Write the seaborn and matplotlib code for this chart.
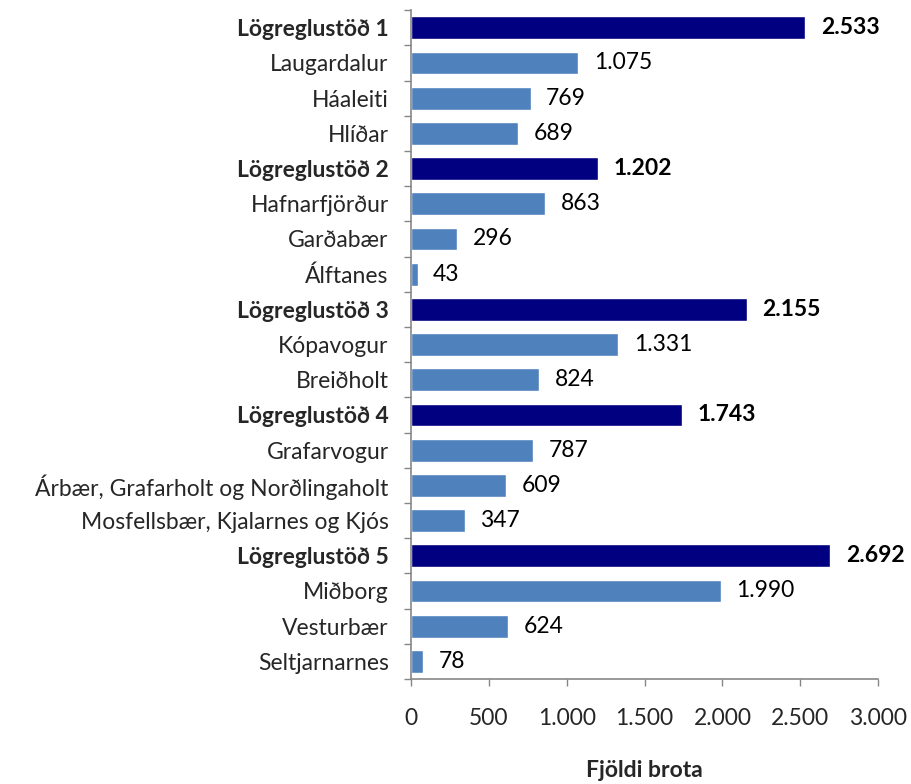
import pandas as pd
import matplotlib.pyplot as plt
import seaborn as sns

# Fjöldi brota eftir lögreglustöð og hverfi
categories = [
    "Lögreglustöð 1", "Laugardalur", "Háaleiti", "Hlíðar",
    "Lögreglustöð 2", "Hafnarfjörður", "Garðabær", "Álftanes",
    "Lögreglustöð 3", "Kópavogur", "Breiðholt",
    "Lögreglustöð 4", "Grafarvogur", "Árbær, Grafarholt og Norðlingaholt",
    "Mosfellsbær, Kjalarnes og Kjós",
    "Lögreglustöð 5", "Miðborg", "Vesturbær", "Seltjarnarnes",
]
values = [2533, 1075, 769, 689, 1202, 863, 296, 43, 2155, 1331, 824,
          1743, 787, 609, 347, 2692, 1990, 624, 78]
x_ticks = [0, 500, 1000, 1500, 2000, 2500, 3000]

STATION_COLOR = "#000080"
AREA_COLOR = "#4F81BD"
AXIS_COLOR = "#878787"
FS = 16.5

sns.set_theme(style="white")
plt.rcParams["font.family"] = ["Lato", "DejaVu Sans"]


def fmt(v):
    return f"{v:,}".replace(",", ".")


df = pd.DataFrame({"area": categories, "count": values})
df["station"] = df["area"].str.startswith("Lögreglustöð")

fig = plt.figure(figsize=(9.11, 7.84), dpi=100)
ax = fig.add_axes([0.451, 0.134, 0.513, 0.853])

palette = [STATION_COLOR if s else AREA_COLOR for s in df["station"]]
sns.barplot(data=df, y="area", x="count", hue="area", palette=palette,
            legend=False, width=0.65, ax=ax, saturation=1)

ax.set_xlim(0, 3000)
ax.set_ylim(len(categories) - 0.5, -0.5)
ax.set_xticks(x_ticks)
ax.set_xticklabels([fmt(t) for t in x_ticks], fontsize=FS)
ax.tick_params(axis="x", bottom=True, direction="out", length=5, width=1,
               color=AXIS_COLOR, pad=16)

ax.set_yticks(range(len(categories)))
ax.set_yticklabels(categories, fontsize=FS)
for lbl, st in zip(ax.get_yticklabels(), df["station"]):
    if st:
        lbl.set_fontweight("bold")
ax.tick_params(axis="y", which="major", left=True, length=0, pad=16)
# boundary ticks between categories
ax.set_yticks([i - 0.5 for i in range(len(categories) + 1)], minor=True)
ax.tick_params(axis="y", which="minor", left=True, direction="out", length=5,
               width=1, color=AXIS_COLOR)

for side in ["top", "right"]:
    ax.spines[side].set_visible(False)
for side in ["left", "bottom"]:
    ax.spines[side].set_color(AXIS_COLOR)
    ax.spines[side].set_linewidth(1.2)

for i, (v, st) in enumerate(zip(df["count"], df["station"])):
    ax.text(v + 100, i, fmt(v), va="center", ha="left", fontsize=FS,
            fontweight="bold" if st else "normal", color="black")

ax.set_xlabel("Fjöldi brota", fontsize=FS, fontweight="bold", labelpad=22)
ax.set_ylabel("")

fig.savefig("out.png", dpi=100)
